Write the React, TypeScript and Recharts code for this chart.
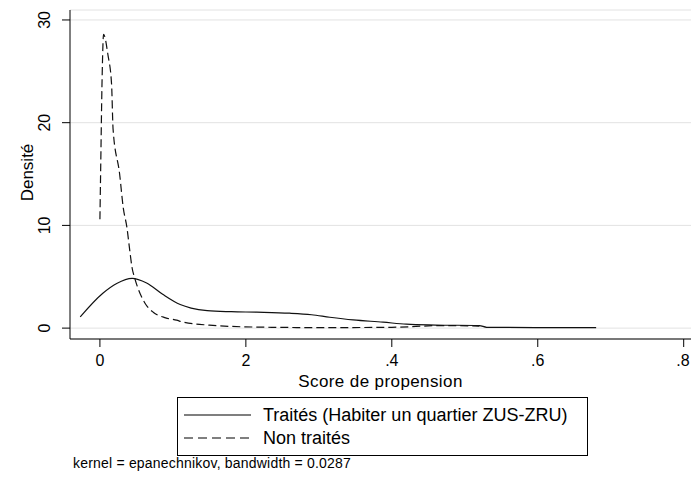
import React from 'react';
import { LineChart, Line, XAxis, YAxis, CartesianGrid, Label } from 'recharts';

// Traités (solid)
const traitesX = [-0.027, 0.004, 0.023, 0.044, 0.064, 0.086, 0.11, 0.125, 0.147, 0.18, 0.215, 0.26, 0.29, 0.315, 0.347, 0.388, 0.42, 0.46, 0.52, 0.53, 0.6, 0.68];
const traitesY = [1.1, 3.4, 4.35, 4.85, 4.4, 3.3, 2.3, 1.95, 1.7, 1.6, 1.55, 1.45, 1.3, 1.06, 0.8, 0.58, 0.38, 0.3, 0.25, 0.08, 0.05, 0.05];

// Non traités (dashed)
const nonX = [0, 0.001, 0.003, 0.005, 0.011, 0.016, 0.018, 0.027, 0.032, 0.037, 0.041, 0.044, 0.048, 0.062, 0.073, 0.09, 0.105, 0.114, 0.15, 0.215, 0.3, 0.4, 0.47, 0.52];
const nonY = [10.6, 15.3, 24.3, 28.6, 26.6, 23.7, 19.4, 15, 11.7, 9.8, 7.5, 5.9, 4.8, 2.4, 1.55, 1.0, 0.77, 0.58, 0.29, 0.1, 0.05, 0.08, 0.25, 0.2];

const xTicks = [0, 0.2, 0.4, 0.6, 0.8];
const xTickLabels = ['0', '2', '.4', '.6', '.8'];
const yTicks = [0, 10, 20, 30];
const yTickLabels = ['0', '10', '20', '30'];

const traitesData = traitesX.map((x, i) => ({ x, y: traitesY[i] }));
const nonData = nonX.map((x, i) => ({ x, y: nonY[i] }));

const FONT = '"Liberation Sans", Arial, sans-serif';

const XTick = (props: any) => {
  const { x, payload } = props;
  return (
    <text x={x} y={366} textAnchor="middle" fontSize={16} fontFamily={FONT} fill="#000">
      {xTickLabels[xTicks.indexOf(payload.value)]}
    </text>
  );
};

const YTick = (props: any) => {
  const { y, payload } = props;
  return (
    <text x={45} y={y} transform={`rotate(-90 45 ${y})`} textAnchor="middle" dominantBaseline="central" fontSize={16} fontFamily={FONT} fill="#000">
      {yTickLabels[yTicks.indexOf(payload.value)]}
    </text>
  );
};

export default function App() {
  return (
    <div style={{ position: 'absolute', left: 0, top: 0, width: 693, height: 481, background: '#fff', fontFamily: FONT }}>
      <LineChart width={693} height={390} margin={{ top: 10, right: 2, bottom: 0, left: 0 }}>
        <CartesianGrid vertical={false} stroke="#e2e2e2" />
        <XAxis type="number" dataKey="x" domain={[-0.041, 0.81]} ticks={xTicks} allowDataOverflow height={51}
          tickSize={8} tick={<XTick />} axisLine={{ stroke: '#000' }} tickLine={{ stroke: '#000' }}>
          <Label content={(p: any) => (
            <text x={p.viewBox.x + p.viewBox.width / 2} y={p.viewBox.y + 48} textAnchor="middle" fontSize={17} letterSpacing={0.4} fontFamily={FONT} fill="#000">
              Score de propension
            </text>
          )} />
        </XAxis>
        <YAxis type="number" dataKey="y" domain={[-1.06, 30.97]} ticks={yTicks} allowDataOverflow width={70}
          tickSize={8} tick={<YTick />} axisLine={{ stroke: '#000' }} tickLine={{ stroke: '#000' }}>
          <Label content={(p: any) => {
            const cy = p.viewBox.y + p.viewBox.height / 2 - 2;
            return (
              <text x={27} y={cy} transform={`rotate(-90 27 ${cy})`} textAnchor="middle" dominantBaseline="central" fontSize={17} fontFamily={FONT} fill="#000">
                Densité
              </text>
            );
          }} />
        </YAxis>
        <Line data={traitesData} dataKey="y" type="monotone" stroke="#111" strokeWidth={1.2} dot={false} isAnimationActive={false} />
        <Line data={nonData} dataKey="y" type="monotone" stroke="#111" strokeWidth={1.2} strokeDasharray="8 4" dot={false} isAnimationActive={false} />
      </LineChart>
      <svg width={693} height={91} style={{ position: 'absolute', left: 0, top: 390 }}>
        <rect x={177.5} y={7.5} width={410} height={58} fill="#fff" stroke="#000" />
        <line x1={184} x2={251} y1={25} y2={25} stroke="#000" strokeWidth={1.2} />
        <text x={263} y={25} dominantBaseline="central" fontSize={18} fontFamily={FONT} fill="#000">Traités (Habiter un quartier ZUS-ZRU)</text>
        <line x1={184} x2={251} y1={48} y2={48} stroke="#000" strokeWidth={1.2} strokeDasharray="9 5" />
        <text x={263} y={48} dominantBaseline="central" fontSize={18} fontFamily={FONT} fill="#000">Non traités</text>
        <text x={73} y={73} dominantBaseline="central" fontSize={14} letterSpacing={0.2} fontFamily={FONT} fill="#000">kernel = epanechnikov, bandwidth = 0.0287</text>
      </svg>
    </div>
  );
}
